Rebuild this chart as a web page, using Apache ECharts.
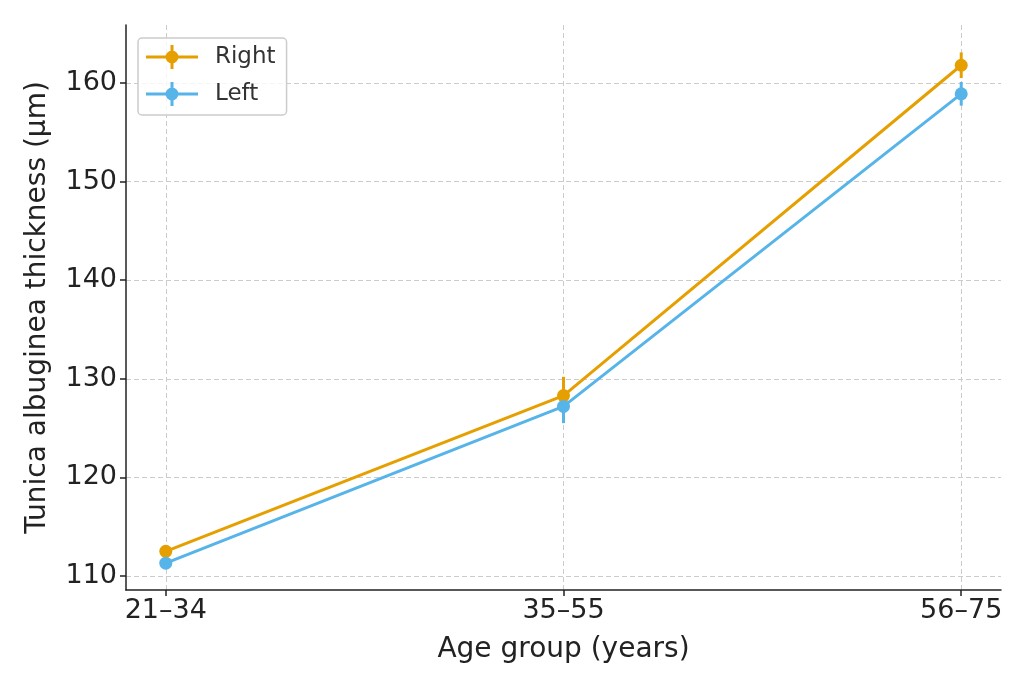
<!DOCTYPE html>
<html>
<head>
<meta charset="utf-8">
<script src="https://cdn.jsdelivr.net/npm/echarts@6/dist/echarts.min.js"></script>
<style>html,body{margin:0;padding:0;background:#fff}#c{width:1035px;height:690px}</style>
</head>
<body>
<div id="c"></div>
<script>
const categories = ['21–34', '35–55', '56–75'];
const rightMean = [112.5, 128.3, 161.8];
const rightErr = [0.4, 1.9, 1.3];
const leftMean = [111.3, 127.2, 158.9];
const leftErr = [0.4, 1.7, 1.2];
const yTicks = [110, 120, 130, 140, 150, 160];

const ORANGE = '#E69F00', BLUE = '#56B4E9';
const FONT = 'DejaVu Sans';
const icon = 'path://M0,10.5H52V13.5H0Z M24.5,0H27.5V24H24.5Z M19.5,12A6.5,6.5 0 1 1 32.5,12A6.5,6.5 0 1 1 19.5,12Z';

function errSeries(name, mean, err, color) {
  return {
    name: name, type: 'custom', z: 3,
    data: mean.map((m, i) => [i, m - err[i], m + err[i]]),
    renderItem: function (params, api) {
      const a = api.coord([api.value(0), api.value(1)]);
      const b = api.coord([api.value(0), api.value(2)]);
      return {type: 'line', shape: {x1: a[0], y1: a[1], x2: b[0], y2: b[1]},
              style: {stroke: color, lineWidth: 3}};
    }
  };
}
function lineSeries(name, mean, color) {
  return {
    name: name, type: 'line', z: 4,
    data: mean.map((m, i) => [i, m]),
    symbol: 'circle', symbolSize: 13,
    lineStyle: {color: color, width: 3},
    itemStyle: {color: color}
  };
}

const chart = echarts.init(document.getElementById('c'), null, {renderer: 'canvas'});
chart.setOption({
  animation: false,
  grid: {left: 126, right: 34, top: 25, bottom: 100},
  legend: {
    left: 138, top: 38, orient: 'vertical',
    data: [{name: 'Right', icon: icon}, {name: 'Left', icon: icon}],
    itemWidth: 52, itemHeight: 24, itemGap: 13,
    padding: [7, 11, 9, 8],
    borderColor: '#cccccc', borderWidth: 1.5, borderRadius: 4,
    backgroundColor: 'rgba(255,255,255,0.8)',
    textStyle: {fontFamily: FONT, fontSize: 23, lineHeight: 24, color: '#333', padding: [0, 0, 0, 12]}
  },
  xAxis: {
    type: 'value', min: -0.1, max: 2.1,
    name: 'Age group (years)', nameLocation: 'middle', nameGap: 46,
    nameTextStyle: {fontFamily: FONT, fontSize: 28, color: '#222'},
    axisLine: {show: true, onZero: false, lineStyle: {color: '#222', width: 1.5}},
    axisTick: {show: true, length: 6, lineStyle: {color: '#222', width: 1.5}, customValues: [0, 1, 2]},
    axisLabel: {customValues: [0, 1, 2], formatter: v => categories[Math.round(v)], fontFamily: FONT, fontSize: 27, color: '#222', margin: 7},
    splitLine: {show: true, lineStyle: {color: '#cccccc', type: [5, 3], width: 1}}
  },
  yAxis: {
    type: 'value', min: 108.58, max: 165.88,
    name: 'Tunica albuginea thickness (μm)', nameLocation: 'middle', nameGap: 74,
    nameTextStyle: {fontFamily: FONT, fontSize: 28, color: '#222'},
    axisLine: {show: true, onZero: false, lineStyle: {color: '#222', width: 1.5}},
    axisTick: {show: true, length: 6, lineStyle: {color: '#222', width: 1.5}, customValues: yTicks},
    axisLabel: {customValues: yTicks, fontFamily: FONT, fontSize: 27, color: '#222', margin: 9},
    splitLine: {show: true, lineStyle: {color: '#cccccc', type: [5, 3], width: 1}}
  },
  series: [
    lineSeries('Right', rightMean, ORANGE),
    errSeries('Right', rightMean, rightErr, ORANGE),
    lineSeries('Left', leftMean, BLUE),
    errSeries('Left', leftMean, leftErr, BLUE)
  ]
});
</script>
</body>
</html>
